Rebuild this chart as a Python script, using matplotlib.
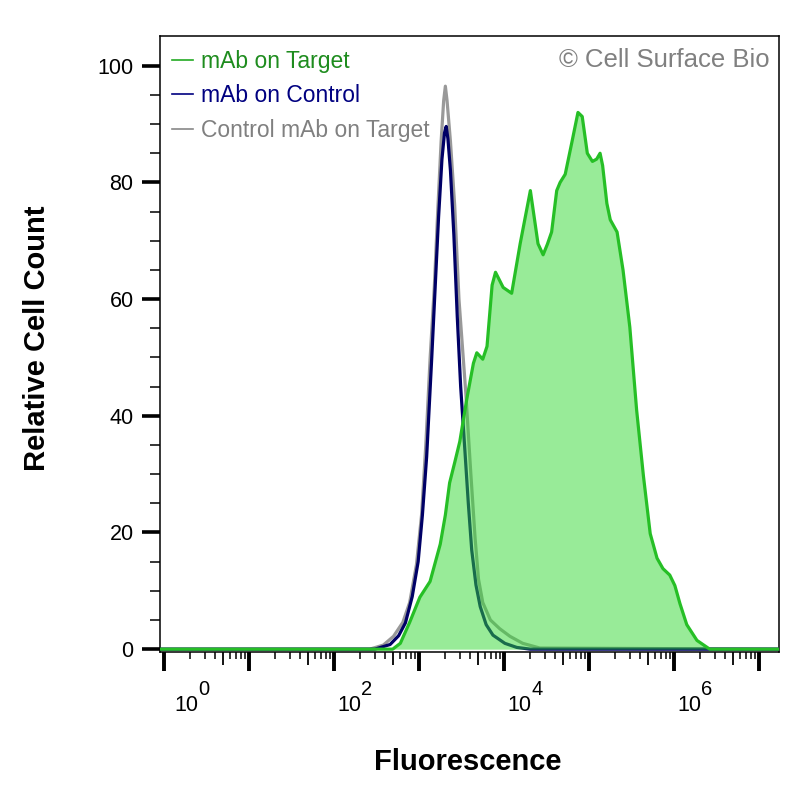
import numpy as np
import matplotlib
matplotlib.use("Agg")
import matplotlib.pyplot as plt
from matplotlib.lines import Line2D
from matplotlib.ticker import FixedLocator, NullFormatter
import matplotlib.transforms as mtransforms

plt.rcParams['font.family'] = ['Liberation Sans', 'DejaVu Sans']

# ---- data (log10 fluorescence, relative count) ----
green_log = [-0.05, 2.69, 2.78, 2.89, 3.01, 3.13, 3.25, 3.31, 3.36, 3.42, 3.48, 3.56, 3.64, 3.68,
             3.75, 3.80, 3.86, 3.90, 3.99, 4.09, 4.19, 4.31, 4.40, 4.46, 4.51, 4.56,
             4.62, 4.66, 4.72, 4.80, 4.87, 4.92, 4.98, 5.04, 5.09, 5.13, 5.16, 5.21,
             5.25, 5.33, 5.40, 5.48, 5.56, 5.64, 5.72, 5.80, 5.87, 5.95, 6.01, 6.07,
             6.15, 6.27, 6.42, 7.25]
green_val = [0, 0, 1.0, 4.6, 8.9, 11.6, 18.0, 23.0, 28.5, 32.0, 35.6, 42.7, 49.0, 50.8,
             49.7, 51.9, 62.4, 64.6, 62.0, 61.0, 69.5, 78.6, 69.5, 67.6, 69.4, 71.5,
             78.6, 80.0, 81.4, 87.0, 92.0, 91.3, 85.0, 83.6, 84.0, 85.0, 82.9, 76.4,
             73.6, 71.5, 65.0, 55.2, 41.0, 29.7, 19.8, 15.6, 13.8, 12.7, 10.9, 7.8,
             4.2, 1.5, 0, 0]

navy_log = [-0.05, 2.48, 2.66, 2.76, 2.84, 2.92, 2.99, 3.04, 3.09, 3.15, 3.19, 3.23, 3.27,
            3.30, 3.32, 3.34, 3.37, 3.41, 3.45, 3.49, 3.54, 3.58, 3.62, 3.67, 3.72,
            3.79, 3.87, 4.01, 4.15, 4.31, 7.25]
navy_val = [0, 0, 0.8, 2.3, 4.5, 9.0, 15.0, 23.0, 33.0, 50.0, 62.0, 74.0, 84.0,
            88.5, 89.6, 87.5, 82.0, 71.0, 57.0, 45.0, 34.0, 25.0, 17.0, 11.0, 7.3,
            4.2, 2.4, 1.0, 0.3, 0, 0]

gray_log = [-0.05, 2.42, 2.58, 2.70, 2.81, 2.89, 2.97, 3.03, 3.08, 3.13, 3.18, 3.22, 3.26,
            3.29, 3.31, 3.33, 3.37, 3.42, 3.47, 3.51, 3.55, 3.61, 3.66, 3.70, 3.75,
            3.84, 3.95, 4.07, 4.22, 4.42, 7.25]
gray_val = [0, 0, 0.7, 2.2, 4.6, 8.0, 14.5, 23.0, 35.0, 49.7, 62.0, 75.0, 87.0,
            94.0, 96.5, 94.0, 87.0, 76.0, 60.0, 52.0, 44.0, 30.0, 19.0, 12.0, 8.0,
            5.0, 3.5, 2.2, 1.0, 0.2, 0]

series_labels = ['mAb on Target', 'mAb on Control', 'Control mAb on Target']
y_ticks = [0, 20, 40, 60, 80, 100]
x_label_decades = [0, 2, 4, 6]

# ---- figure ----
fig = plt.figure(figsize=(8, 8), dpi=100)
ax = fig.add_axes([160 / 800, 1 - 651.5 / 800, 619 / 800, 615.5 / 800])

green_line = '#26bf26'
green_fill = (0.2, 0.85, 0.2)
navy = '#000066'
gray = '#999999'

gx = 10 ** np.array(green_log)
nx = 10 ** np.array(navy_log)
grx = 10 ** np.array(gray_log)

ax.plot(grx, gray_val, color=gray, lw=2.3, zorder=2, solid_joinstyle='round')
ax.plot(nx, navy_val, color=navy, lw=2.3, zorder=3, solid_joinstyle='round')
ax.fill_between(gx, green_val, 0, color=green_fill, alpha=0.5, lw=0, zorder=4)
ax.plot(gx, green_val, color=green_line, lw=2.3, zorder=5, solid_joinstyle='round')

ax.set_xscale('log')
ax.set_xlim(10 ** -0.047, 10 ** 7.235)
ax.set_ylim(-0.4, 105.1)

# y ticks
ax.set_yticks(y_ticks)
ax.set_yticklabels([str(v) for v in y_ticks])
ax.yaxis.set_minor_locator(FixedLocator(np.arange(5, 105, 5)))
ax.tick_params(axis='y', which='major', length=13, width=2.6, direction='out',
               labelsize=15.5, pad=6, color='black')
ax.tick_params(axis='y', which='minor', length=7, width=1.1, direction='out', color='black')

# x ticks
ax.set_xticks([10.0 ** k for k in range(0, 8)])
ax.xaxis.set_major_formatter(NullFormatter())
minor = [s * 10.0 ** k for k in range(0, 8) for s in (2, 3, 4, 6, 7, 8, 9)]
ax.xaxis.set_minor_locator(FixedLocator(minor))
ax.xaxis.set_minor_formatter(NullFormatter())
ax.tick_params(axis='x', which='major', length=14, width=2.8, direction='out')
ax.tick_params(axis='x', which='minor', length=5, width=1.1, direction='out')

sec = ax.secondary_xaxis('bottom')
sec.set_xticks([5 * 10.0 ** k for k in range(0, 8)])
sec.xaxis.set_major_formatter(NullFormatter())
sec.xaxis.set_minor_locator(FixedLocator([]))
sec.tick_params(axis='x', which='major', length=9, width=1.3, direction='out')
sec.spines['bottom'].set_visible(False)

# x tick labels "10" with full-size exponent
trans = mtransforms.blended_transform_factory(ax.transData, fig.transFigure)
for k in x_label_decades:
    dx = 10 if k == 0 else 3
    t1 = trans + mtransforms.ScaledTranslation(dx / 100, 0, fig.dpi_scale_trans)
    t2 = trans + mtransforms.ScaledTranslation((dx + 24) / 100, 0, fig.dpi_scale_trans)
    ax.text(10.0 ** k, 1 - 711 / 800, '10', transform=t1, ha='left', va='baseline',
            fontsize=15.5, clip_on=False)
    ax.text(10.0 ** k, 1 - 695 / 800, str(k), transform=t2, ha='left', va='baseline',
            fontsize=14.5, clip_on=False)

for side in ['left', 'top', 'right', 'bottom']:
    ax.spines[side].set_linewidth(1.1)
    ax.spines[side].set_color('black')

ax.set_xlabel('Fluorescence', fontsize=21, fontweight='bold', va='center')
ax.xaxis.set_label_coords((468 - 160) / 619, (651.5 - 762) / 615.5)
ax.set_ylabel('Relative Cell Count', fontsize=21, fontweight='bold', va='center')
ax.yaxis.set_label_coords((37 - 160) / 619, (651.5 - 338) / 615.5)

handles = [Line2D([], [], color='#22aa22', lw=1.2),
           Line2D([], [], color='#000080', lw=1.2),
           Line2D([], [], color='#888888', lw=1.2)]
ax.legend(handles, series_labels, loc='upper left',
          bbox_to_anchor=((172 - 160) / 619, (651.5 - 50) / 615.5),
          frameon=False, fontsize=16.5, handlelength=0.9, handletextpad=0.35,
          labelspacing=0.5, borderpad=0, borderaxespad=0,
          labelcolor=['#1e8c1e', '#000080', '#808080'])

ax.text((770 - 160) / 619, (651.5 - 60) / 615.5, '\u00a9 Cell Surface Bio',
        transform=ax.transAxes, ha='right', va='center', fontsize=18.5, color='#808080')

fig.savefig('out.png', dpi=100)
